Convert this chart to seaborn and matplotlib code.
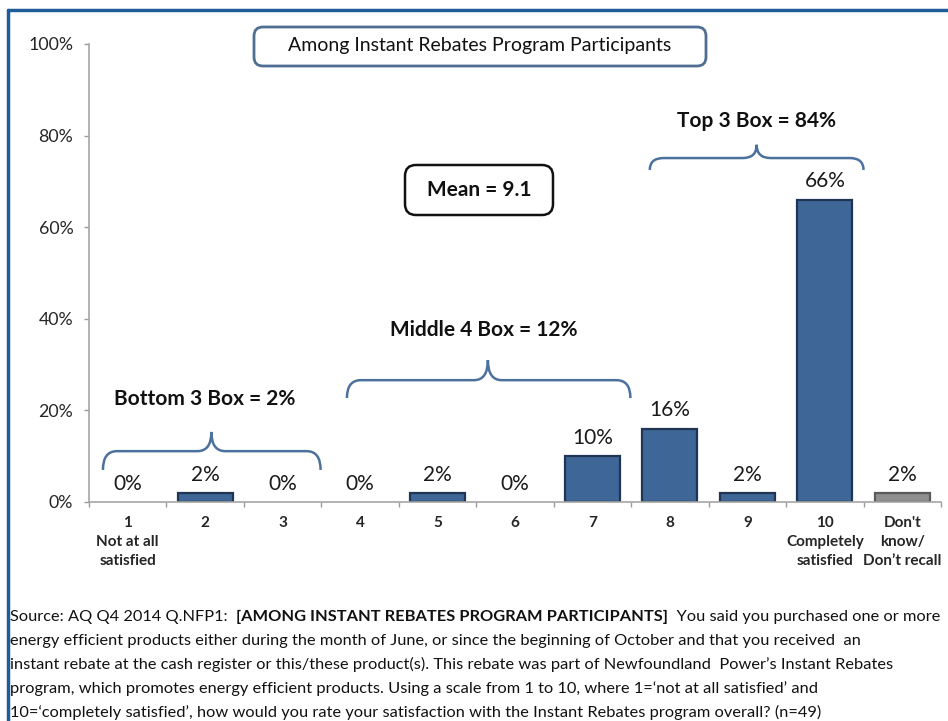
import matplotlib
matplotlib.use("Agg")
import matplotlib.pyplot as plt
import seaborn as sns
import pandas as pd
from matplotlib.path import Path
from matplotlib.patches import PathPatch, FancyBboxPatch
from matplotlib.lines import Line2D

# Données
categories = ["1\nNot at all\nsatisfied", "2", "3", "4", "5", "6", "7", "8", "9",
              "10\nCompletely\nsatisfied", "Don't\nknow/\nDon\u2019t recall"]
values = [0, 2, 0, 0, 2, 0, 10, 16, 2, 66, 2]
value_labels = ["0%", "2%", "0%", "0%", "2%", "0%", "10%", "16%", "2%", "66%", "2%"]
bar_colors = ["#3E6696"] * 10 + ["#8F8F8F"]
edge_colors = ["#1F3553"] * 10 + ["#5A5A5A"]
y_ticks = [0, 20, 40, 60, 80, 100]

title_box = "Among Instant Rebates Program Participants"
mean_text = "Mean = 9.1"
groups = [
    # texte, x gauche, x droite, x pointe, y horizontal, y pointe, y bras, x texte, y texte
    ("Bottom 3 Box = 2%", -0.32, 2.49, 1.08, 11.1, 15.3, 7.0, 1.0, 22.5),
    ("Middle 4 Box = 12%", 2.83, 6.49, 4.65, 26.6, 31.0, 22.7, 4.6, 37.5),
    ("Top 3 Box = 84%", 6.74, 9.50, 8.12, 75.1, 78.0, 72.5, 8.12, 83.2),
]

footnote_lines = [
    "energy efficient products either during the month of June, or since the beginning of October and that you received  an",
    "instant rebate at the cash register or this/these product(s). This rebate was part of Newfoundland  Power\u2019s Instant Rebates",
    "program, which promotes energy efficient products. Using a scale from 1 to 10, where 1=\u2018not at all satisfied\u2019 and",
    "10=\u2018completely satisfied\u2019, how would you rate your satisfaction with the Instant Rebates program overall? (n=49)",
]

df = pd.DataFrame({"cat": categories, "val": values})

sns.set_theme(style="white")
plt.rcParams["font.family"] = ["Lato", "DejaVu Sans"]

W, H = 948, 721
fig = plt.figure(figsize=(W / 100, H / 100), dpi=100)
ax = fig.add_axes([89 / W, 1 - 502 / H, 852 / W, 458 / H])

sns.barplot(data=df, x="cat", y="val", hue="cat", palette=bar_colors, legend=False,
            width=0.71, ax=ax, saturation=1)
for patch, ec, v in zip(ax.patches, edge_colors, values):
    patch.set_edgecolor(ec)
    patch.set_linewidth(1.6 if v > 0 else 0)

for i, (v, lab) in enumerate(zip(values, value_labels)):
    ax.text(i, v + 4.0, lab, ha="center", va="center", fontsize=15, color="#1a1a1a")

ax.set_ylim(0, 100)
ax.set_xlim(-0.5, len(values) - 0.5)
ax.set_yticks(y_ticks)
ax.set_yticklabels([f"{t}%" for t in y_ticks], fontsize=12.8)
ax.set_xlabel("")
ax.set_ylabel("")
ax.set_xticks(range(len(values)))
ax.set_xticklabels(categories, fontsize=11, fontweight="bold", linespacing=1.45)
ax.set_xticks([i + 0.5 for i in range(-1, len(values))], minor=True)
ax.tick_params(axis="x", which="major", length=0, pad=10)
ax.tick_params(axis="x", which="minor", length=3.8, color="#9a9a9a", width=1, direction="out",
               bottom=True)
ax.tick_params(axis="y", length=3.8, color="#9a9a9a", width=1, direction="out", left=True, pad=7.5)
for s in ["top", "right"]:
    ax.spines[s].set_visible(False)
for s in ["left", "bottom"]:
    ax.spines[s].set_color("#a6a6a6")
    ax.spines[s].set_linewidth(1.2)

# Accolades des regroupements
brace_color = "#4C719C"
for text, xl, xr, xm, yh, ytip, yend, tx, ty in groups:
    rx = 0.18
    verts = [(xl, yend), (xl, yh), (xl + rx, yh), (xm - rx, yh), (xm, yh), (xm, ytip),
             (xm, ytip), (xm, yh), (xm + rx, yh), (xr - rx, yh), (xr, yh), (xr, yend)]
    codes = [Path.MOVETO, Path.CURVE3, Path.CURVE3, Path.LINETO, Path.CURVE3, Path.CURVE3,
             Path.MOVETO, Path.CURVE3, Path.CURVE3, Path.LINETO, Path.CURVE3, Path.CURVE3]
    ax.add_patch(PathPatch(Path(verts, codes), fill=False, edgecolor=brace_color, lw=1.8,
                           clip_on=False))
    ax.text(tx, ty, text, ha="center", va="center", fontsize=15, fontweight="bold",
            color="#111111")

# Encadrés (coordonnées en pixels de la figure)
def px_box(x0, y0, x1, y1, ec, lw, r):
    box = FancyBboxPatch((x0, H - y1), x1 - x0, y1 - y0,
                         boxstyle=f"round,pad=0,rounding_size={r}",
                         transform=None, fc="white", ec=ec, lw=lw)
    fig.add_artist(box)

px_box(254, 27, 706, 66, "#4F6F92", 2, 9)
fig.text(480 / W, 1 - 46 / H, title_box, ha="center", va="center", fontsize=14,
         color="#111111")
px_box(405, 165, 553, 215, "#111111", 1.8, 11)
fig.text(479 / W, 1 - 190 / H, mean_text, ha="center", va="center", fontsize=15,
         fontweight="bold", color="#111111")

# Cadre bleu extérieur
fig.add_artist(Line2D([8 / W, 1], [1 - 10 / H, 1 - 10 / H], color="#1F5C99", lw=2.5))
fig.add_artist(Line2D([8 / W, 8 / W], [1 - 10 / H, 0], color="#1F5C99", lw=2.5))

# Note de source (première ligne en trois morceaux)
fs = 11.8
fig.canvas.draw()
renderer = fig.canvas.get_renderer()
x = 10
pieces = [("Source: AQ Q4 2014 Q.NFP1:  ", "normal"),
          ("[AMONG INSTANT REBATES PROGRAM PARTICIPANTS]", "bold"),
          ("  You said you purchased one or more", "normal")]
for txt, wt in pieces:
    t = fig.text(x / W, 1 - 617 / H, txt, ha="left", va="center", fontsize=fs, fontweight=wt,
                 color="#111111")
    x += t.get_window_extent(renderer).width
for k, line in enumerate(footnote_lines):
    fig.text(10 / W, 1 - (641 + 23.8 * k) / H, line, ha="left", va="center", fontsize=fs,
             color="#111111")

fig.savefig("out.png", dpi=100)
